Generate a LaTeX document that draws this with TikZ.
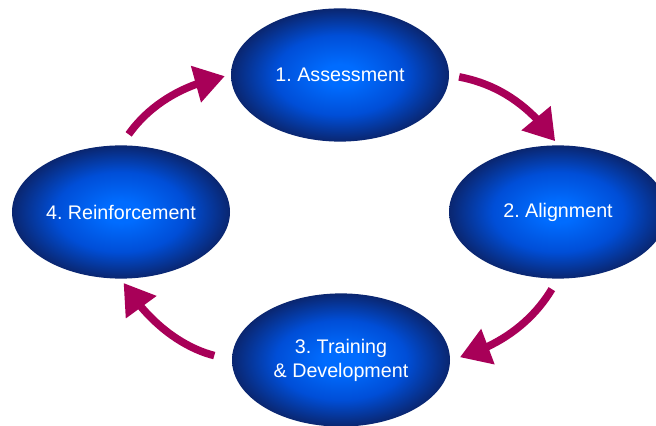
\documentclass[tikz,border=0pt]{standalone}
\usepackage{xcolor}
\usepackage{fontspec}
\setmainfont{Liberation Sans}
\usepackage{tikz}
\usetikzlibrary{shapes,arrows,positioning,calc,shapes.geometric,arrows.meta,bending}

\definecolor{stagein}{RGB}{0,108,255}
\definecolor{stagemid}{RGB}{0,78,215}
\definecolor{stageout}{RGB}{10,38,112}
\definecolor{cyclered}{RGB}{168,0,88}
% the ellipse rim sits at 25bp of the shading
\pgfdeclareradialshading{stageball}{\pgfpoint{0bp}{0bp}}{color(0bp)=(stagein); color(4bp)=(stagein); color(15bp)=(stagemid); color(25bp)=(stageout); color(50bp)=(stageout)}
\frenchspacing

\begin{document}
\begin{tikzpicture}[
    stage/.style={ellipse, shading=stageball, minimum width=5.45cm, minimum height=3.33cm, inner sep=0pt, text=white, align=center, font=\fontsize{14}{17}\selectfont},
    arrow/.style={-{Triangle[length=0.75cm, width=0.9cm, flex]}, draw=cyclered, line width=0.19cm, bend left=22}
]
    \useasboundingbox (0,0) rectangle (16.4,10.625);

    \node[stage] (assess) at (8.5,8.75) {1. Assessment};
    \node[stage] (align) at (13.95,5.325) {2. Alignment};
    \node[stage] (train) at (8.525,1.625) {3. Training\\ \& Development};
    \node[stage] (reinf) at (3.025,5.325) {4. Reinforcement};

    \draw[arrow, shorten <=0.25cm, shorten >=0.12cm] (assess.east) to (align.north);
    \draw[arrow, shorten <=0.3cm, shorten >=0.25cm] (align.south) to (train.east);
    \draw[arrow, shorten <=0.45cm, shorten >=0.12cm] (train.west) to (reinf.south);
    \draw[arrow, shorten <=0.33cm, shorten >=0.15cm] (reinf.north) to (assess.west);
\end{tikzpicture}
\end{document}
